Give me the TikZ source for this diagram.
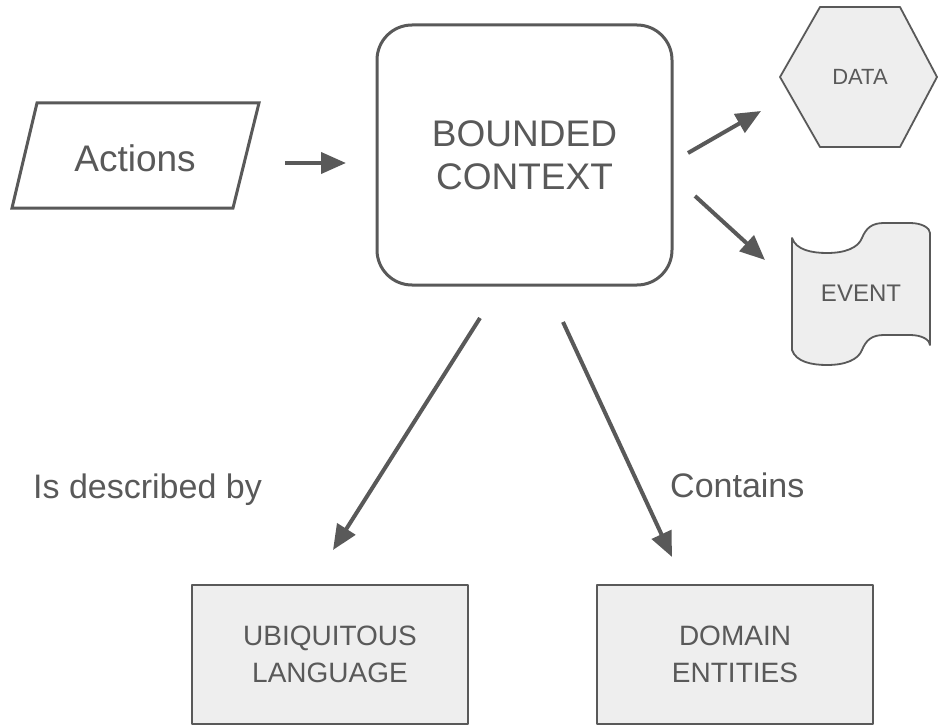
\documentclass[tikz,border=0pt]{standalone}
\usepackage{fontspec}
\setmainfont{Liberation Sans}
\usetikzlibrary{arrows.meta}
\definecolor{ink}{HTML}{595959}
\definecolor{shade}{HTML}{EEEEEE}
\begin{document}
\begin{tikzpicture}[x=1pt,y=-1pt,
  txt/.style={text=ink, align=center, inner sep=0pt},
  bigtxt/.style={txt, font=\fontsize{37}{43}\selectfont},
  boxtxt/.style={txt, font=\fontsize{28}{37}\selectfont},
  smalltxt/.style={txt, font=\fontsize{22}{26}\selectfont},
  labeltxt/.style={txt, font=\fontsize{34}{40}\selectfont},
  heavy/.style={draw=ink, line width=3pt, line join=round},
  light/.style={draw=ink, line width=1.8pt, fill=shade, line join=round},
  link/.style={draw=ink, line width=4pt, -{Triangle[length=25pt,width=21pt]}},
  bottombox/.style={light, boxtxt, minimum width=276pt, minimum height=139pt}
]
\useasboundingbox (0,0) rectangle (938,725);

% input actions (parallelogram)
\draw[heavy, line join=miter] (37,103) -- (259,103) -- (233,208) -- (12,208) -- cycle;
\node[bigtxt] (actions) at (135,158) {Actions};

% central bounded context
\node[heavy, bigtxt, rounded corners=35pt, minimum width=295pt, minimum height=260pt]
  (bc) at (524.5,155) {BOUNDED\\CONTEXT};

% data store (hexagon)
\draw[light] (820,7) -- (900,7) -- (937,77) -- (900,147) -- (820,147) -- (780,77) -- cycle;
\node[smalltxt] (data) at (860,77) {DATA};

% event (tape shape)
\draw[light] (792,238)
  .. controls (796,250) and (812,253) .. (827,253)
  .. controls (845,253) and (858,248) .. (862,238)
  .. controls (866,228) and (872,223) .. (884,223)
  -- (910,223)
  .. controls (922,223) and (930,228) .. (930,233)
  -- (930,345)
  .. controls (930,340) and (922,335) .. (910,335)
  -- (884,335)
  .. controls (872,335) and (866,340) .. (862,350)
  .. controls (858,360) and (845,365) .. (827,365)
  .. controls (812,365) and (796,362) .. (792,350)
  -- cycle;
\node[txt, font=\fontsize{24}{28}\selectfont] (event) at (861,293) {EVENT};

% lower boxes
\node[bottombox] (ubi) at (330,654.5) {UBIQUITOUS\\LANGUAGE};
\node[bottombox] (dom) at (735,654.5) {DOMAIN\\ENTITIES};

% relation labels
\node[labeltxt, anchor=base west] (described) at (33,498) {Is described by};
\node[labeltxt, anchor=base west] (contains) at (670,497) {Contains};

% connector end points
\coordinate (actOut) at (285,163);
\coordinate (bcIn) at (346,163);
\coordinate (bcData) at (688,153);
\coordinate (dataIn) at (761,111);
\coordinate (bcEvent) at (695,196);
\coordinate (eventIn) at (765,260);
\coordinate (bcUbi) at (480,318);
\coordinate (ubiIn) at (333,550);
\coordinate (bcDom) at (563,322);
\coordinate (domIn) at (672,557);

% connectors
\draw[link] (actOut) -- (bcIn);
\draw[link] (bcData) -- (dataIn);
\draw[link] (bcEvent) -- (eventIn);
\draw[link] (bcUbi) -- (ubiIn);
\draw[link] (bcDom) -- (domIn);
\end{tikzpicture}
\end{document}
